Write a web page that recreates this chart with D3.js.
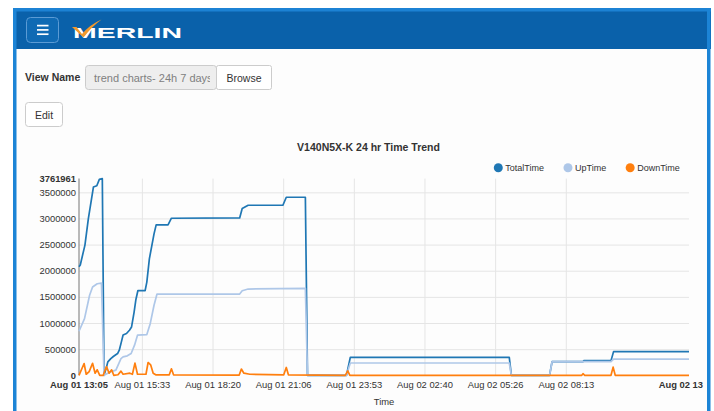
<!DOCTYPE html>
<html>
<head>
<meta charset="utf-8">
<script src="https://cdn.jsdelivr.net/npm/d3@7"></script>
<style>
html, body { margin: 0; padding: 0; background: #fff; }
svg { display: block; font-family: "Liberation Sans", Arial, Helvetica, sans-serif; }
</style>
</head>
<body>
<svg id="page" width="714" height="411"></svg>
<script>
// chart values
const chartTitle = 'V140N5X-K 24 hr Time Trend';
const seriesNames = ['TotalTime', 'UpTime', 'DownTime'];
const seriesColors = ['#1f77b4', '#aec7e8', '#ff7f0e'];

const domainStart = '08-01 13:05';
const domainEnd = '08-02 13:04';
const xEndLabel = 'Aug 02 13';   // the max label is cut short in the original

const totalTimeAt = ['08-01 13:05', '08-01 13:08', '08-01 13:19', '08-01 13:27', '08-01 13:39', '08-01 13:47',
    '08-01 13:53', '08-01 14:00', '08-01 14:04', '08-01 14:09', '08-01 14:13', '08-01 14:20', '08-01 14:26',
    '08-01 14:36', '08-01 14:40', '08-01 14:45', '08-01 14:49', '08-01 14:57', '08-01 15:04', '08-01 15:09',
    '08-01 15:15', '08-01 15:19', '08-01 15:24', '08-01 15:41', '08-01 15:45', '08-01 15:51', '08-01 16:02',
    '08-01 16:07', '08-01 16:35', '08-01 16:43', '08-01 19:24', '08-01 19:30', '08-01 19:44', '08-01 21:06',
    '08-01 21:14', '08-01 21:59', '08-01 22:04', '08-01 23:36', '08-01 23:45', '08-02 06:00', '08-02 06:05',
    '08-02 07:35', '08-02 07:41', '08-02 08:54', '08-02 08:56', '08-02 10:00', '08-02 10:06', '08-02 13:04'];
const totalTimeValues = [2075000, 2110000, 2490000, 2990000, 3600000, 3625000,
    3748000, 3761961, 0, 130000, 257000, 320000, 360000,
    416000, 480000, 640000, 772000, 800000, 862000, 925000,
    1210000, 1440000, 1621000, 1621000, 1783000, 2228000, 2705000,
    2876000, 2876000, 3004000, 3010000, 3190000, 3252000, 3252000,
    3405000, 3405000, 0, 0, 343000, 343000, 0,
    0, 263000, 263000, 280000, 280000, 453000, 453000];

const upTimeAt = ['08-01 13:05', '08-01 13:18', '08-01 13:30', '08-01 13:37', '08-01 13:48', '08-01 13:58',
    '08-01 14:04', '08-01 14:17', '08-01 14:32', '08-01 14:44', '08-01 14:49', '08-01 14:59', '08-01 15:08',
    '08-01 15:16', '08-01 15:23', '08-01 15:45', '08-01 15:53', '08-01 16:02', '08-01 16:09', '08-01 19:24',
    '08-01 19:30', '08-01 19:44', '08-01 21:59', '08-01 22:04', '08-01 23:36', '08-01 23:45', '08-02 06:00',
    '08-02 06:05', '08-02 07:35', '08-02 07:41', '08-02 10:00', '08-02 10:06', '08-02 13:04'];
const upTimeValues = [843000, 1083000, 1530000, 1688000, 1751000, 1764000,
    0, 60000, 100000, 320000, 353000, 372000, 416000,
    576000, 767000, 778000, 988000, 1339000, 1554000, 1554000,
    1617000, 1650000, 1663000, 0, 0, 235000, 235000,
    0, 0, 263000, 263000, 310000, 310000];

const downTimeAt = ['08-01 13:05', '08-01 13:17', '08-01 13:22', '08-01 13:29', '08-01 13:37', '08-01 13:43',
    '08-01 13:48', '08-01 13:54', '08-01 14:02', '08-01 14:10', '08-01 14:16', '08-01 14:22', '08-01 14:27',
    '08-01 14:37', '08-01 14:44', '08-01 14:49', '08-01 15:05', '08-01 15:11', '08-01 15:17', '08-01 15:23',
    '08-01 15:43', '08-01 15:48', '08-01 15:54', '08-01 16:00', '08-01 16:06', '08-01 16:38', '08-01 16:43',
    '08-01 16:48', '08-01 19:23', '08-01 19:28', '08-01 19:34', '08-01 19:48', '08-01 21:08', '08-01 21:14',
    '08-01 21:19', '08-01 23:33', '08-01 23:39', '08-01 23:44', '08-02 08:51', '08-02 08:54', '08-02 08:58',
    '08-02 10:00', '08-02 10:05', '08-02 10:10', '08-02 13:04'];
const downTimeValues = [0, 225000, 20000, 70000, 230000, 40000,
    105000, 0, 0, 165000, 40000, 105000, 0,
    10000, 80000, 20000, 40000, 20000, 232000, 20000,
    20000, 245000, 200000, 40000, 10000, 10000, 124000,
    10000, 5000, 120000, 40000, 20000, 10000, 150000,
    10000, 0, 86000, 0, 0, 30000, 0,
    0, 157000, 0, 0];

const yMax = 3761961;
const yTicks = [0, 500000, 1000000, 1500000, 2000000, 2500000, 3000000, 3500000];
const xTicks = ['2019-08-01 15:33:20', '2019-08-01 18:20:00', '2019-08-01 21:06:40', '2019-08-01 23:53:20',
    '2019-08-02 02:40:00', '2019-08-02 05:26:40', '2019-08-02 08:13:20'];

const parseT = (s) => d3.timeParse('%Y-%m-%d %H:%M')('2019-' + s);
const parseTick = d3.timeParse('%Y-%m-%d %H:%M:%S');
const fmtTime = d3.timeFormat('%b %d %H:%M');

const page = d3.select('#page');

// ---- page frame + header ----
page.append('rect').attr('x', 13).attr('y', 8).attr('width', 698).attr('height', 403).attr('fill', '#fdfdfd');
page.append('rect').attr('x', 13).attr('y', 8).attr('width', 698).attr('height', 41).attr('fill', '#0a61aa');
page.append('rect').attr('x', 13).attr('y', 8).attr('width', 698).attr('height', 3.5).attr('fill', '#1c82d4');
page.append('rect').attr('x', 13).attr('y', 8).attr('width', 3.5).attr('height', 403).attr('fill', '#1c84d6');
page.append('rect').attr('x', 707).attr('y', 8).attr('width', 3.5).attr('height', 403).attr('fill', '#1c84d6');

page.append('rect')
    .attr('x', 26.5).attr('y', 17.5).attr('width', 32).attr('height', 25).attr('rx', 4)
    .attr('fill', '#0f6ab4').attr('stroke', '#5b9bd5').attr('stroke-width', 1);
[25.6, 29.9, 34.2].forEach(function (ly) {
    page.append('line').attr('x1', 37).attr('x2', 48.5).attr('y1', ly).attr('y2', ly)
        .attr('stroke', '#fff').attr('stroke-width', 1.7);
});

page.append('text')
    .attr('x', 73).attr('y', 38)
    .attr('textLength', 109).attr('lengthAdjust', 'spacingAndGlyphs')
    .style('font-size', '15.5px').style('font-weight', 'bold')
    .attr('fill', '#fff')
    .text('MERLIN');
page.append('path')
    .attr('d', 'M72,27 L76.5,27 L82,34 Q90,24.5 101.5,19.5 Q92,26.5 83.5,37.5 Z')
    .attr('fill', '#f3992c');

// ---- view name form ----
page.append('text').attr('x', 25).attr('y', 81)
    .style('font-size', '10.5px').style('font-weight', 'bold').attr('fill', '#333')
    .text('View Name');

page.append('clipPath').attr('id', 'inputClip')
    .append('rect').attr('x', 86).attr('y', 66).attr('width', 124).attr('height', 23);
page.append('rect').attr('x', 85.5).attr('y', 65.5).attr('width', 131).attr('height', 24).attr('rx', 3)
    .attr('fill', '#eeeeee').attr('stroke', '#cccccc');
page.append('text').attr('x', 94).attr('y', 81.5)
    .attr('clip-path', 'url(#inputClip)')
    .style('font-size', '11px').attr('fill', '#808080')
    .text('trend charts- 24h 7 days');
page.append('rect').attr('x', 216.5).attr('y', 65.5).attr('width', 55).attr('height', 24).attr('rx', 2)
    .attr('fill', '#fff').attr('stroke', '#cccccc');
page.append('text').attr('x', 244).attr('y', 81.5).attr('text-anchor', 'middle')
    .style('font-size', '10.5px').attr('fill', '#333')
    .text('Browse');

page.append('rect').attr('x', 25.5).attr('y', 102.5).attr('width', 37).attr('height', 24).attr('rx', 3)
    .attr('fill', '#fff').attr('stroke', '#cccccc');
page.append('text').attr('x', 44).attr('y', 118.5).attr('text-anchor', 'middle')
    .style('font-size', '10.5px').attr('fill', '#333')
    .text('Edit');

// ---- chart ----
const chart = page.append('g');

const plot = {left: 79, right: 689, top: 178.6, bottom: 375.3};

const x = d3.scaleTime()
    .domain([parseT(domainStart), parseT(domainEnd)])
    .range([plot.left, plot.right]);
const y = d3.scaleLinear()
    .domain([0, yMax])
    .range([plot.bottom, plot.top]);

chart.append('text')
    .attr('x', 368.5).attr('y', 151).attr('text-anchor', 'middle')
    .style('font-size', '10.5px').style('font-weight', 'bold').attr('fill', '#333')
    .text(chartTitle);

// x axis with vertical grid
const gx = chart.append('g')
    .attr('transform', 'translate(0,' + plot.bottom + ')')
    .call(d3.axisBottom(x)
        .tickValues(xTicks.map(parseTick))
        .tickFormat(fmtTime)
        .tickSize(-(plot.bottom - plot.top))
        .tickSizeOuter(0)
        .tickPadding(6.5));
gx.select('.domain').remove();
gx.selectAll('.tick line').attr('stroke', '#e5e5e5');
gx.selectAll('.tick text').attr('fill', '#333').style('font-size', '9.4px');

// y axis with horizontal grid
const gy = chart.append('g')
    .attr('transform', 'translate(' + plot.left + ',0)')
    .call(d3.axisLeft(y)
        .tickValues(yTicks)
        .tickFormat(d3.format('d'))
        .tickSize(-(plot.right - plot.left))
        .tickSizeOuter(0)
        .tickPadding(3));
gy.select('.domain').remove();
gy.selectAll('.tick line').attr('stroke', (d) => d === 0 ? 'none' : '#e5e5e5');
gy.selectAll('.tick text').attr('fill', '#333').style('font-size', '9.4px')
    .style('font-weight', (d) => d === 0 ? 'bold' : 'normal');

// min / max labels (bold)
chart.append('text')
    .attr('x', plot.left - 3).attr('y', y(yMax)).attr('dy', '0.32em').attr('text-anchor', 'end')
    .style('font-size', '9.4px').style('font-weight', 'bold').attr('fill', '#333')
    .text(d3.format('d')(yMax));
chart.append('text')
    .attr('x', x(x.domain()[0])).attr('y', plot.bottom + 6.5).attr('dy', '0.71em').attr('text-anchor', 'middle')
    .style('font-size', '9.4px').style('font-weight', 'bold').attr('fill', '#333')
    .text(fmtTime(x.domain()[0]));
chart.append('text')
    .attr('x', 703).attr('y', plot.bottom + 6.5).attr('dy', '0.71em').attr('text-anchor', 'end')
    .style('font-size', '9.4px').style('font-weight', 'bold').attr('fill', '#333')
    .text(xEndLabel);

chart.append('line')
    .attr('x1', plot.left).attr('x2', plot.left)
    .attr('y1', plot.top).attr('y2', plot.bottom)
    .attr('stroke', '#8c8c8c').attr('stroke-width', 1.2);

chart.append('text')
    .attr('x', (plot.left + plot.right) / 2).attr('y', 405).attr('text-anchor', 'middle')
    .style('font-size', '9.4px').attr('fill', '#333')
    .text('Time');

// series lines
const series = [
    {times: totalTimeAt, values: totalTimeValues},
    {times: upTimeAt, values: upTimeValues},
    {times: downTimeAt, values: downTimeValues}
];

const line = d3.line()
    .x((d) => x(d.t))
    .y((d) => y(d.v));

series.forEach(function (s, i) {
    const pts = s.times.map((t, k) => ({t: parseT(t), v: s.values[k]}));
    chart.append('path')
        .datum(pts)
        .attr('fill', 'none')
        .attr('stroke', seriesColors[i])
        .attr('stroke-width', 1.7)
        .attr('stroke-linejoin', 'round')
        .attr('d', line);
});

// legend
const legend = chart.append('g').attr('transform', 'translate(498.3,167.7)');
let lx = 0;
seriesNames.forEach(function (name, i) {
    const item = legend.append('g').attr('transform', 'translate(' + lx + ',0)');
    item.append('circle').attr('r', 4.5).attr('fill', seriesColors[i]);
    const t = item.append('text')
        .attr('x', 7).attr('dy', '0.32em')
        .style('font-size', '9px').attr('fill', '#333')
        .text(name);
    lx += 7 + t.node().getComputedTextLength() + 24;
});
</script>
</body>
</html>
